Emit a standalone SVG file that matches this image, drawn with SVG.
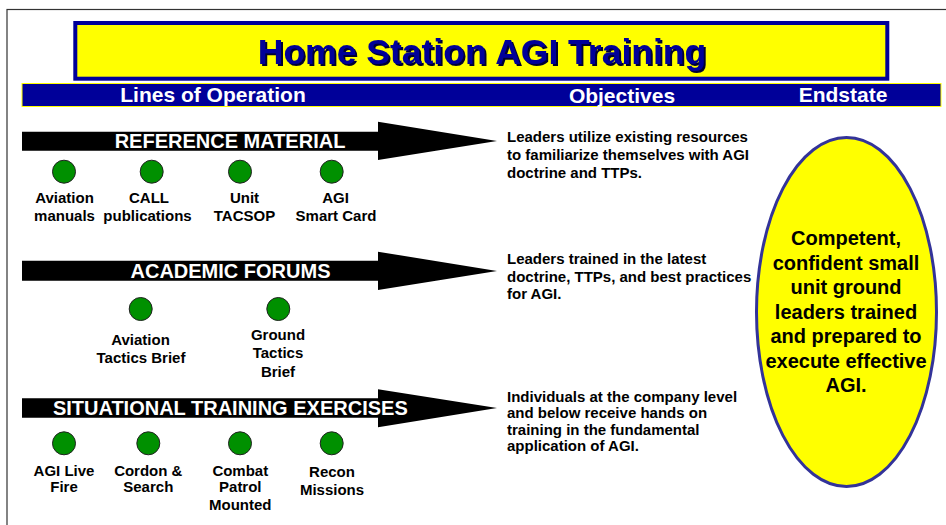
<svg xmlns="http://www.w3.org/2000/svg" width="946" height="525" viewBox="0 0 946 525">
<defs>
<style>
text{font-family:"Liberation Sans",Arial,sans-serif;font-weight:bold}
.hdr{fill:#fff;font-size:21px;text-anchor:middle}
.lbl{fill:#fff;font-size:20px;text-anchor:middle}
.item{fill:#000;font-size:15px;text-anchor:middle}
.obj{fill:#000;font-size:15px}
.end{fill:#000;font-size:20px;text-anchor:middle}
.dot{fill:#009000;stroke:#222;stroke-width:1}
.arr{fill:#000}
</style>
<filter id="shadow" x="-5%" y="-20%" width="110%" height="140%">
<feDropShadow dx="2" dy="2" stdDeviation="0" flood-color="#000033" flood-opacity="1"/>
</filter>
</defs>
<rect x="0" y="0" width="946" height="525" fill="#fff"/>
<rect x="7" y="9.5" width="1000" height="600" fill="none" stroke="#333" stroke-width="1.2"/>

<g id="title">
<rect x="75.3" y="23" width="812" height="55.7" fill="#ffff00" stroke="#000099" stroke-width="4"/>
<text x="482" y="63.5" font-size="35.5" text-anchor="middle" fill="#000099" filter="url(#shadow)">Home Station AGI Training</text>
</g>

<g id="header">
<rect x="22" y="83.5" width="919" height="23" fill="#000099" stroke="#ffff00" stroke-width="1"/>
<text class="hdr" x="213" y="101.7">Lines of Operation</text>
<text class="hdr" x="622" y="103.3">Objectives</text>
<text class="hdr" x="843" y="101.7">Endstate</text>
</g>

<g id="connectors">
<polygon class="arr" points="22,131.7 378,131.7 378,121.7 497,141 378,160 378,150.7 22,150.7"/>
<polygon class="arr" points="22,260.7 378,260.7 378,251.7 497,271 378,290 378,280.7 22,280.7"/>
<polygon class="arr" points="22,398.3 378,398.3 378,389.3 497,408 378,427.3 378,417.7 22,417.7"/>
</g>

<g id="reference-material">
<text class="lbl" x="230" y="148.3">REFERENCE MATERIAL</text>
</g>
<g id="academic-forums">
<text class="lbl" x="230.5" y="278.3">ACADEMIC FORUMS</text>
</g>
<g id="situational-training-exercises">
<text class="lbl" x="230.3" y="415">SITUATIONAL TRAINING EXERCISES</text>
</g>

<g id="aviation-manuals">
<circle class="dot" cx="64" cy="171.7" r="11.5"/>
<text class="item" x="64.5" y="203.3">Aviation</text>
<text class="item" x="64.5" y="221">manuals</text>
</g>
<g id="call-publications">
<circle class="dot" cx="151.7" cy="171.7" r="11.5"/>
<text class="item" x="149" y="203.3">CALL</text>
<text class="item" x="147.5" y="221">publications</text>
</g>
<g id="unit-tacsop">
<circle class="dot" cx="240" cy="171.7" r="11.5"/>
<text class="item" x="244.5" y="203.3">Unit</text>
<text class="item" x="244.5" y="221">TACSOP</text>
</g>
<g id="agi-smart-card">
<circle class="dot" cx="331.7" cy="171.7" r="11.5"/>
<text class="item" x="335.5" y="203.3">AGI</text>
<text class="item" x="336" y="221">Smart Card</text>
</g>

<g id="aviation-tactics-brief">
<circle class="dot" cx="140.7" cy="309" r="11.5"/>
<text class="item" x="140.5" y="345">Aviation</text>
<text class="item" x="141" y="363.3">Tactics Brief</text>
</g>
<g id="ground-tactics-brief">
<circle class="dot" cx="278.3" cy="309" r="11.5"/>
<text class="item" x="278" y="340">Ground</text>
<text class="item" x="278" y="358.3">Tactics</text>
<text class="item" x="278" y="376.7">Brief</text>
</g>

<g id="agi-live-fire">
<circle class="dot" cx="64" cy="443.3" r="11.5"/>
<text class="item" x="64" y="475.7">AGI Live</text>
<text class="item" x="64" y="492.3">Fire</text>
</g>
<g id="cordon-search">
<circle class="dot" cx="148.3" cy="443.3" r="11.5"/>
<text class="item" x="148.3" y="475.7">Cordon &amp;</text>
<text class="item" x="148.3" y="492.3">Search</text>
</g>
<g id="combat-patrol-mounted">
<circle class="dot" cx="240" cy="443.3" r="11.5"/>
<text class="item" x="240.3" y="475.7">Combat</text>
<text class="item" x="240.3" y="492.3">Patrol</text>
<text class="item" x="240.3" y="510">Mounted</text>
</g>
<g id="recon-missions">
<circle class="dot" cx="331.7" cy="443.3" r="11.5"/>
<text class="item" x="332" y="477.3">Recon</text>
<text class="item" x="332" y="495">Missions</text>
</g>

<g id="objective-1">
<text class="obj" x="507" y="141.5">Leaders utilize existing resources</text>
<text class="obj" x="507" y="159.5">to familiarize themselves with AGI</text>
<text class="obj" x="507" y="177.5">doctrine and TTPs.</text>
</g>
<g id="objective-2">
<text class="obj" x="507" y="264">Leaders trained in the latest</text>
<text class="obj" x="507" y="281.7">doctrine, TTPs, and best practices</text>
<text class="obj" x="507" y="299.3">for AGI.</text>
</g>
<g id="objective-3">
<text class="obj" x="507" y="401.7">Individuals at the company level</text>
<text class="obj" x="507" y="418.2">and below receive hands on</text>
<text class="obj" x="507" y="434.5">training in the fundamental</text>
<text class="obj" x="507" y="450.8">application of AGI.</text>
</g>

<g id="endstate">
<ellipse cx="846.5" cy="312" rx="90" ry="174.5" fill="#ffff00" stroke="#333399" stroke-width="3"/>
<text class="end" x="846" y="245">Competent,</text>
<text class="end" x="846" y="269.5">confident small</text>
<text class="end" x="846" y="294">unit ground</text>
<text class="end" x="846" y="318.5">leaders trained</text>
<text class="end" x="846" y="343">and prepared to</text>
<text class="end" x="846" y="367.5">execute effective</text>
<text class="end" x="846" y="392">AGI.</text>
</g>
</svg>
